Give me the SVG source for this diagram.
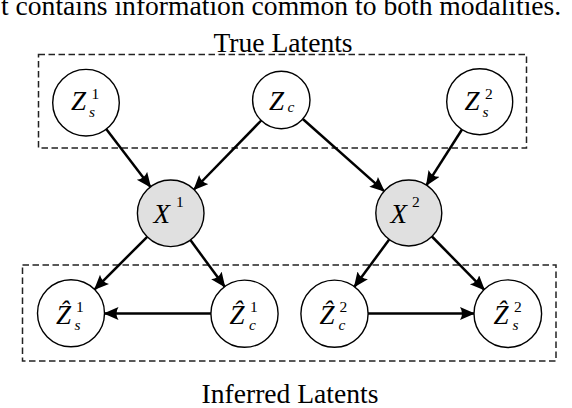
<svg xmlns="http://www.w3.org/2000/svg" width="572" height="408" viewBox="0 0 572 408">
<style>
.cap{font-family:"Liberation Serif","Times New Roman",serif;font-size:27.6px;fill:#000}
.m{font-family:"Liberation Serif","DejaVu Serif",serif;font-size:27px;font-style:italic;fill:#000}
.si{font-family:"Liberation Serif","DejaVu Serif",serif;font-size:15.5px;font-style:italic;fill:#000}
.sr{font-family:"Liberation Serif","DejaVu Serif",serif;font-size:15.5px;fill:#000}
.node{fill:#fff;stroke:#000;stroke-width:1.4}
.obs{fill:#e0e0e0;stroke:#000;stroke-width:1.4}
.box{fill:none;stroke:#222;stroke-width:1.5;stroke-dasharray:6.5 3.5}
.edge{fill:none;stroke:#000;stroke-width:2.5;marker-end:url(#arr)}
</style>
<defs>
<marker id="arr" markerUnits="userSpaceOnUse" markerWidth="18" markerHeight="16" refX="14" refY="6.5" orient="auto">
<path d="M15,6.5 L0,0 Q4,6.5 0,13 Z" fill="#000"/>
</marker>
</defs>
<rect width="572" height="408" fill="#fff"/>
<text class="cap" x="1" y="14.5">t contains information common to both modalities.</text>
<g id="true-latents-box">
<rect class="box" x="38.5" y="54.5" width="488" height="93.5"/>
<text class="cap" x="283" y="52" text-anchor="middle">True Latents</text>
</g>
<g id="inferred-latents-box">
<rect class="box" x="22.5" y="265" width="533.5" height="96"/>
<text class="cap" x="290" y="403" text-anchor="middle">Inferred Latents</text>
</g>
<g id="connectors">
<line class="edge" x1="106.2" y1="129.1" x2="150.5" y2="186.9"/>
<line class="edge" x1="261.2" y1="120.5" x2="194.0" y2="189.5"/>
<line class="edge" x1="302.8" y1="119.0" x2="384.1" y2="191.1"/>
<line class="edge" x1="462.0" y1="129.5" x2="426.5" y2="185.2"/>
<line class="edge" x1="147.2" y1="236.8" x2="94.7" y2="289.3"/>
<line class="edge" x1="190.4" y1="240.1" x2="224.7" y2="286.7"/>
<line class="edge" x1="389.2" y1="239.6" x2="354.4" y2="286.7"/>
<line class="edge" x1="431.9" y1="236.5" x2="484.3" y2="289.8"/>
<line class="edge" x1="211" y1="313.5" x2="104.5" y2="313.5"/>
<line class="edge" x1="368" y1="313.5" x2="474" y2="313.5"/>
</g>
<g id="Zs1">
<circle class="node" cx="86" cy="102.7" r="33.3"/>
<text class="m" x="71" y="110">Z</text>
<text class="sr" x="91.5" y="98.5">1</text>
<text class="si" x="89" y="116.5">s</text>
</g>
<g id="Zc">
<circle class="node" cx="281.3" cy="100" r="28.7"/>
<text class="m" x="269" y="110">Z</text>
<text class="si" x="287.5" y="112">c</text>
</g>
<g id="Zs2">
<circle class="node" cx="479.7" cy="101.7" r="33"/>
<text class="m" x="464.5" y="110">Z</text>
<text class="sr" x="485" y="98.5">2</text>
<text class="si" x="482.5" y="116.5">s</text>
</g>
<g id="X1">
<circle class="obs" cx="170.7" cy="213.3" r="33.3"/>
<text class="m" x="153.5" y="222.5">X</text>
<text class="sr" x="176" y="207">1</text>
</g>
<g id="X2">
<circle class="obs" cx="408.8" cy="213" r="33"/>
<text class="m" x="390.5" y="222.5">X</text>
<text class="sr" x="412" y="207">2</text>
</g>
<g id="Zhat-s1">
<circle class="node" cx="71" cy="313.3" r="33.5"/>
<text class="m" x="56" y="323.5">Ẑ</text>
<text class="sr" x="76" y="312">1</text>
<text class="si" x="74.5" y="329.5">s</text>
</g>
<g id="Zhat-c1">
<circle class="node" cx="244.5" cy="313.7" r="33.6"/>
<text class="m" x="229.5" y="323.5">Ẑ</text>
<text class="sr" x="250" y="312">1</text>
<text class="si" x="249" y="329.5">c</text>
</g>
<g id="Zhat-c2">
<circle class="node" cx="334.5" cy="313.7" r="33.6"/>
<text class="m" x="319.5" y="323.5">Ẑ</text>
<text class="sr" x="339.5" y="312">2</text>
<text class="si" x="338.5" y="329.5">c</text>
</g>
<g id="Zhat-s2">
<circle class="node" cx="507.8" cy="313.7" r="33.8"/>
<text class="m" x="493.5" y="323.5">Ẑ</text>
<text class="sr" x="514" y="312">2</text>
<text class="si" x="512.5" y="329.5">s</text>
</g>
</svg>
